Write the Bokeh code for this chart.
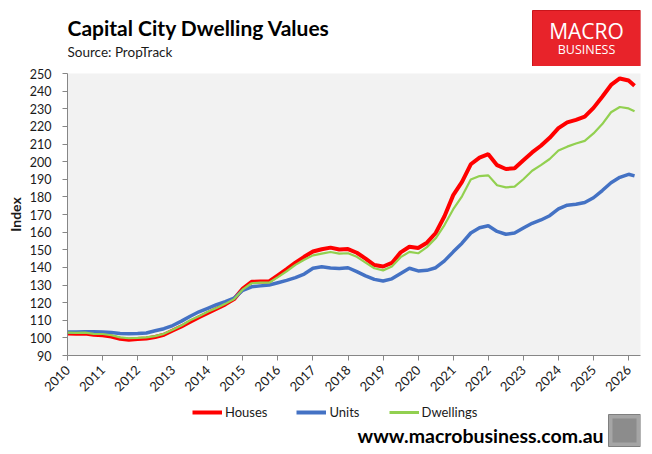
from math import pi
from bokeh.plotting import figure
from bokeh.layouts import column
from bokeh.models import Range1d, FixedTicker, Legend, LegendItem
from bokeh.core.properties import value
from bokeh.embed import file_html
from bokeh.resources import INLINE

# Quarterly observation dates (decimal years)
dates = [2010.0, 2010.25, 2010.5, 2010.75, 2011.0, 2011.25, 2011.5, 2011.75,
         2012.0, 2012.25, 2012.5, 2012.75, 2013.0, 2013.25, 2013.5, 2013.75,
         2014.0, 2014.25, 2014.5, 2014.75, 2015.0, 2015.25, 2015.5, 2015.75,
         2016.0, 2016.25, 2016.5, 2016.75, 2017.0, 2017.25, 2017.5, 2017.75,
         2018.0, 2018.25, 2018.5, 2018.75, 2019.0, 2019.25, 2019.5, 2019.75,
         2020.0, 2020.25, 2020.5, 2020.75, 2021.0, 2021.25, 2021.5, 2021.75,
         2022.0, 2022.25, 2022.5, 2022.75, 2023.0, 2023.25, 2023.5, 2023.75,
         2024.0, 2024.25, 2024.5, 2024.75, 2025.0, 2025.25, 2025.5, 2025.75,
         2026.0, 2026.17]

houses = [102.5, 102.3, 102.5, 101.8, 101.5, 100.8, 99.5, 99.0,
          99.3, 99.6, 100.5, 101.8, 104.2, 106.5, 109.1, 111.7,
          114.1, 116.5, 119.0, 122.0, 128.0, 131.8, 132.0, 132.0,
          135.5, 139.0, 142.7, 146.0, 149.0, 150.3, 151.2, 150.1,
          150.4, 148.3, 145.0, 141.3, 140.5, 142.5, 148.5, 151.7,
          151.0, 154.0, 159.5, 169.0, 181.0, 188.5, 198.5, 202.3,
          204.2, 198.0, 195.8, 196.2, 200.8, 205.2, 209.0, 213.5,
          219.0, 222.3, 223.7, 225.5, 230.5, 236.8, 243.5, 247.2,
          246.0, 243.0]

units = [103.3, 103.3, 103.5, 103.5, 103.3, 103.0, 102.5, 102.3,
         102.5, 102.8, 104.0, 105.2, 107.0, 109.5, 112.3, 114.8,
         116.8, 118.8, 120.5, 122.5, 127.0, 129.0, 129.5, 130.0,
         131.3, 132.6, 134.2, 136.2, 139.5, 140.3, 139.7, 139.4,
         139.8, 137.6, 135.2, 133.2, 132.3, 133.5, 136.5, 139.5,
         138.0, 138.3, 139.8, 143.7, 148.8, 153.7, 159.5, 162.5,
         163.6, 160.4, 158.8, 159.5, 162.3, 165.0, 166.9, 169.3,
         173.2, 175.3, 175.8, 176.8, 179.5, 183.6, 188.0, 191.1,
         192.8, 191.9]

dwellings = [103.0, 102.8, 103.0, 102.3, 102.2, 101.5, 100.3, 99.8,
             100.0, 100.3, 101.0, 102.3, 104.6, 107.0, 110.0, 112.3,
             114.8, 117.0, 119.3, 122.0, 127.5, 131.0, 131.3, 131.3,
             134.5, 137.8, 141.4, 144.3, 146.8, 147.8, 148.7, 147.8,
             148.0, 146.0, 142.7, 139.5, 138.3, 140.5, 145.8, 148.8,
             148.0, 151.5, 156.5, 164.0, 173.0, 180.3, 189.8, 191.8,
             192.2, 186.6, 185.4, 185.8, 190.0, 194.8, 198.0, 201.5,
             206.3, 208.5, 210.3, 211.8, 216.0, 221.3, 228.0, 231.0,
             230.2, 228.6]

year_ticks = [2010, 2011, 2012, 2013, 2014, 2015, 2016, 2017, 2018,
              2019, 2020, 2021, 2022, 2023, 2024, 2025, 2026]
index_ticks = [90, 100, 110, 120, 130, 140, 150, 160, 170, 180, 190,
               200, 210, 220, 230, 240, 250]

series_names = ["Houses", "Units", "Dwellings"]
series_colors = ["#FF0000", "#4472C4", "#92D050"]
series_widths = [4, 3.5, 2.2]

FONT = "Lato"
TXT = "#1a1a1a"
AX = "#868686"
W = 652
LEFT, RIGHT = 67, 12
NAN = float("nan")


def strip(height, y_top):
    """A decoration strip; its data units equal page pixels (frame aligned with chart)."""
    f = figure(width=W, height=height, output_backend="svg", toolbar_location=None,
               x_range=Range1d(LEFT, W - RIGHT), y_range=Range1d(y_top + height, y_top),
               x_axis_type=None, y_axis_type=None,
               min_border_left=LEFT, min_border_right=RIGHT,
               min_border_top=0, min_border_bottom=0)
    f.outline_line_color = None
    f.xgrid.grid_line_color = None
    f.ygrid.grid_line_color = None
    f.background_fill_color = "white"
    f.border_fill_color = "white"
    return f


# ---------- header: title, source, logo ----------
head = strip(66, 0)
head.text(x=[67], y=[27], text=["Capital City Dwelling Values"],
          text_font=value(FONT), text_font_style="bold", text_font_size="21px",
          text_color="black", text_baseline="alphabetic")
head.text(x=[67], y=[51], text=["Source: PropTrack"],
          text_font=value(FONT), text_font_size="13.5px",
          text_color=TXT, text_baseline="alphabetic")
head.quad(left=[532], right=[640], top=[10], bottom=[66],
          fill_color="#E8232A", line_color="#C9151B", line_width=1)
head.text(x=[586], y=[30], text=["MACRO"], text_font=value("Open Sans"),
          text_font_size="21px", text_color="white", text_align="center",
          text_baseline="alphabetic")
head.text(x=[586], y=[48.5], text=["BUSINESS"], text_font=value("Open Sans"),
          text_font_size="12.5px", text_color="white", text_align="center",
          text_baseline="alphabetic")

# ---------- main chart ----------
p = figure(width=W, height=336, output_backend="svg", toolbar_location=None,
           x_range=Range1d(2010, 2026.34), y_range=Range1d(90, 250),
           min_border_left=LEFT, min_border_right=RIGHT, min_border_top=7,
           min_border_bottom=47)
p.background_fill_color = "#F2F2F2"
p.border_fill_color = "white"
p.outline_line_color = None
p.xgrid.grid_line_color = None
p.ygrid.grid_line_color = None

p.xaxis.ticker = FixedTicker(ticks=year_ticks)
p.xaxis.major_label_orientation = pi / 4
p.yaxis.ticker = FixedTicker(ticks=index_ticks)
for ax in (p.xaxis, p.yaxis):
    ax.axis_line_color = AX
    ax.major_tick_line_color = AX
    ax.minor_tick_line_color = None
    ax.major_tick_in = 0
    ax.major_tick_out = 5
    ax.major_label_text_font = FONT
    ax.major_label_text_color = TXT
p.xaxis.major_label_text_font_size = "13px"
p.yaxis.major_label_text_font_size = "12.5px"
p.yaxis.major_label_standoff = 11
p.xaxis.major_label_standoff = 7
p.yaxis.axis_label = "Index"
p.yaxis.axis_label_text_font = FONT
p.yaxis.axis_label_text_font_style = "bold"
p.yaxis.axis_label_text_font_size = "14px"
p.yaxis.axis_label_text_color = TXT
p.yaxis.axis_label_standoff = 3

for vals, col, lw in zip([houses, units, dwellings], series_colors, series_widths):
    p.line(dates, vals, line_color=col, line_width=lw)

# ---------- footer: legend, url, logo ----------
foot = strip(52, 402)
swatches = [foot.line(x=[NAN, NAN], y=[NAN, NAN], line_color=c, line_width=w)
            for c, w in zip(series_colors, [4, 4, 3])]
legend = Legend(items=[LegendItem(label=n, renderers=[r])
                       for n, r in zip(series_names, swatches)],
                orientation="horizontal", location=(125, 34),
                glyph_width=30, glyph_height=16, label_height=16,
                label_standoff=3, spacing=29, padding=0, margin=0,
                border_line_color=None, background_fill_alpha=0,
                label_text_font=FONT, label_text_font_size="13px",
                label_text_color=TXT)
foot.add_layout(legend, "center")
foot.text(x=[357], y=[435], text=["www.macrobusiness.com.au"],
          text_font=value(FONT), text_font_style="bold", text_font_size="19.5px",
          text_color="black", text_baseline="alphabetic")
foot.quad(left=[608], right=[640], top=[414], bottom=[446],
          fill_color="#A5A5A5", line_color="#7F7F7F", line_width=1)
foot.quad(left=[612], right=[636], top=[418], bottom=[442],
          fill_color="#8C8C8C", line_color=None)

layout = column(head, p, foot, spacing=0)
open("out.html", "w").write(file_html(layout, INLINE))
